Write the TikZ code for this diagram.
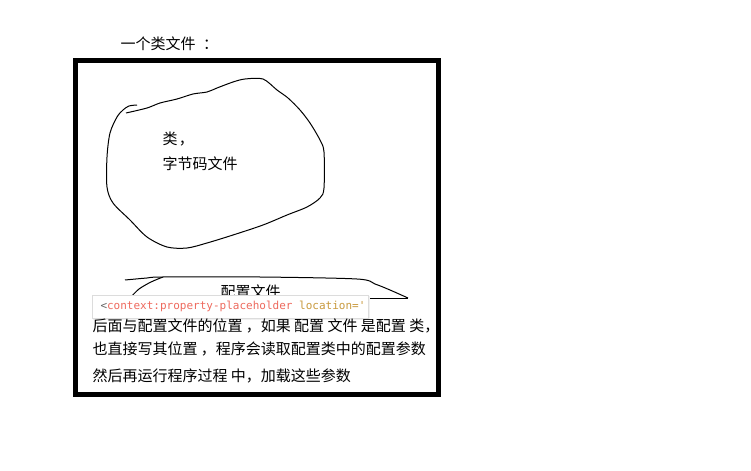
\documentclass[tikz,border=0pt]{standalone}
\usepackage{fontspec}
\newfontfamily\cjk{Noto Sans CJK SC}
\setmonofont{DejaVu Sans Mono}
\definecolor{tagred}{HTML}{EE6A5E}
\definecolor{attrgold}{HTML}{C99A3E}
\definecolor{ltgray}{HTML}{DCDCDC}
\begin{document}
\begin{tikzpicture}[x=0.75pt,y=-0.75pt,line width=0.75pt,
  txt/.style={anchor=west,inner sep=0pt,font=\fontsize{11.25}{13}\selectfont\cjk}]
\useasboundingbox[fill=white] (0,0) rectangle (751,471);
\node[txt] (title) at (120,44) {一个类文件\enspace ：};
\draw[line width=3.75pt] (75.5,60.5) rectangle (438.5,394.5);
% class blob
\draw plot[smooth,tension=0.5] coordinates {(126,113) (147,108) (160,103) (177,99) (193,94)
  (207,92) (217,88) (233,82) (245,79) (263,79) (277,90) (288,98) (300,110) (310,123)
  (320,140) (324,152) (324,188) (320,198) (307,207) (287,215) (263,225) (233,235)
  (207,243) (187,248) (167,247) (147,237) (130,220) (113,203) (107,187) (107,157)
  (110,133) (117,117) (123,110) (129,106) (137,105)};
\node[txt] (cls) at (162,139) {类\kern1pt，};
\node[txt] (bytecode) at (162,164) {字节码文件};
% config file
\draw plot[smooth,tension=0.5] coordinates {(125,280) (147,278) (163,277) (260,277)
  (357,279) (375,284) (390,290) (408,298)};
\draw plot[smooth,tension=0.5] coordinates {(131,297) (139,289) (151,282) (163,277)};
\draw (140,298) -- (408,298);
\node[txt] (conf) at (220,291.5) {配置文件};
% popup
\fill[black!6] (93,296) rectangle (370,320);
\draw[ltgray,fill=white,line width=0.6pt] (92,295) rectangle (368,318);
\node[anchor=west,inner sep=0pt,font=\fontsize{8.25}{10}\selectfont\ttfamily] (tip) at (100,306.5)
  {\textcolor{black!60}{<}\textcolor{tagred}{context:property-placeholder}
   \textcolor{attrgold}{location='}};
\node[txt] (line1) at (92,326) {后面与配置文件的位置 ，如果 配置 文件 是配置 类，};
\node[txt] (line2) at (92,349) {也直接写其位置 ，程序会读取配置类中的配置参数};
\node[txt] (line3) at (92,376) {然后再运行程序过程 中，加载这些参数};
\end{tikzpicture}
\end{document}
